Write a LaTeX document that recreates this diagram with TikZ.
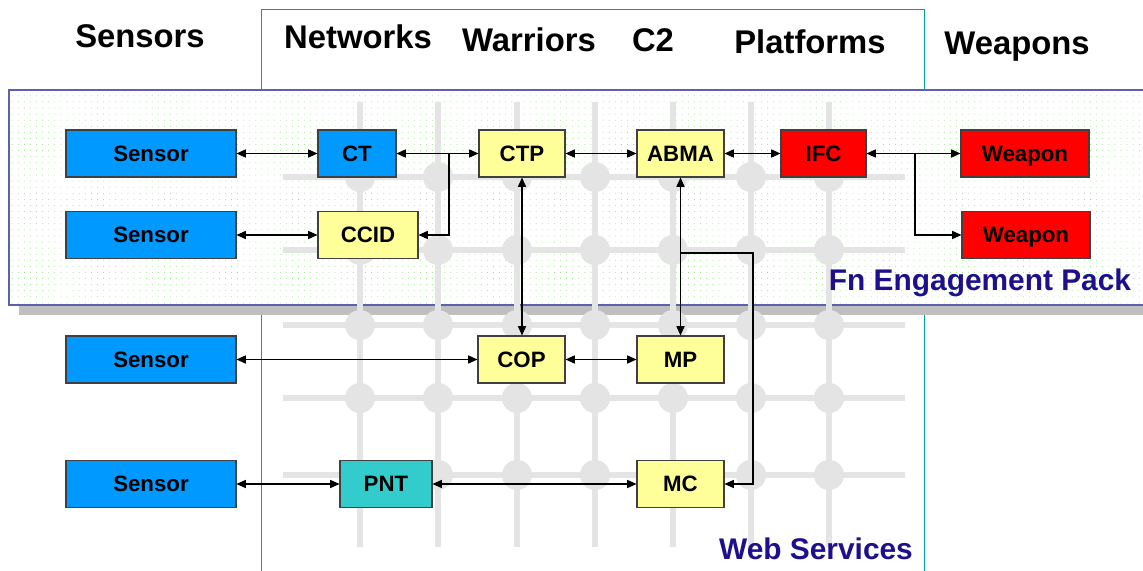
\documentclass[tikz,border=0pt]{standalone}
\usepackage{fontspec}
\setmainfont{Liberation Sans}
\usetikzlibrary{arrows.meta,patterns.meta}

\definecolor{sensorblue}{RGB}{0,153,255}
\definecolor{svcyellow}{RGB}{255,255,153}
\definecolor{pntteal}{RGB}{51,204,204}
\definecolor{packblue}{RGB}{30,16,140}
\definecolor{packedge}{RGB}{95,95,175}
\definecolor{packdots}{RGB}{120,220,100}
\definecolor{gridgray}{RGB}{228,228,228}
\definecolor{frameteal}{RGB}{0,160,160}

\tikzstyle{box}=[draw=black!75,line width=0.9pt,minimum height=1.41cm,inner sep=0pt,text height=13.6pt,text depth=0pt,font=\fontsize{19}{22}\selectfont\bfseries]
\tikzstyle{sensor}=[box,fill=sensorblue,minimum width=5.1cm]
\tikzstyle{svc}=[box,fill=svcyellow]
\tikzstyle{wpn}=[box,fill=red]
\tikzstyle{grid}=[gridgray,line width=4.3pt]
\tikzstyle{link}=[line width=0.9pt,{Triangle[length=8pt,width=7pt]}-{Triangle[length=8pt,width=7pt]}]
\tikzstyle{tip}=[line width=0.9pt,-{Triangle[length=8pt,width=7pt]}]
\tikzstyle{head}=[inner sep=0pt,text height=20pt,text depth=0pt,font=\fontsize{28}{32}\selectfont\bfseries]
\tikzstyle{tag}=[text=packblue,inner sep=0pt,text height=18.3pt,text depth=0pt,font=\fontsize{25.5}{30}\selectfont\bfseries]

\begin{document}
\begin{tikzpicture}[x=0.03cm,y=-0.03cm]

   \clip (0,0) rectangle (1143,571);
   \fill[white] (0,0) rectangle (1143,571);

   % Column titles

   \draw (140,36) node[head] (hsens) {Sensors};
   \draw (358,37) node[head] (hnet) {Networks};
   \draw (529,40) node[head] (hwar) {Warriors};
   \draw (653,40) node[head] (hc2) {C2};
   \draw (810,42) node[head] (hplat) {Platforms};
   \draw (1017,43) node[head] (hweap) {Weapons};

   \draw[frameteal,line width=0.8pt] (261,600) -- (261,9) -- (924,9) -- (924,600);

   % Engagement pack

   \fill[black!25] (19,100) rectangle (1160,315);
   \fill[white] (9,90) rectangle (1160,305);
   \fill[pattern={Dots[distance=5.2pt,radius=0.35pt]},pattern color=packdots] (9,90) rectangle (1160,305);
   \draw[packedge,line width=1.2pt] (9,90) rectangle (1160,305);

   % Web services grid

   \foreach \y in {177,250,325,398,475}
      \draw[grid] (283,\y) -- (905,\y);
   \foreach \x in {360,438,517,595,673,751,829} {
      \draw[grid] (\x,102) -- (\x,547);
      \foreach \y in {177,250,325,398,475}
         \fill[gridgray] (\x,\y) circle (15);
   }

   % Boxes

   \draw (151,153.5) node[sensor] (s1) {Sensor};
   \draw (357,153.5) node[sensor,minimum width=2.34cm] (ct) {CT};
   \draw (522,153.5) node[svc,minimum width=2.58cm] (ctp) {CTP};
   \draw (680.5,153.5) node[svc,minimum width=2.61cm] (abma) {ABMA};
   \draw (823.5,153.5) node[wpn,minimum width=2.55cm] (ifc) {IFC};
   \draw (1025,153.5) node[wpn,minimum width=3.84cm] (w1) {Weapon};

   \draw (151,235) node[sensor] (s2) {Sensor};
   \draw (368,235) node[svc,minimum width=3.0cm] (ccid) {CCID};
   \draw (1026,235) node[wpn,minimum width=3.84cm] (w2) {Weapon};

   \draw (980,280) node[tag] (fn) {Fn Engagement Pack};

   \draw (151,359.5) node[sensor] (s3) {Sensor};
   \draw (521.5,359.5) node[svc,minimum width=2.61cm] (cop) {COP};
   \draw (680.5,359.5) node[svc,minimum width=2.61cm] (mp) {MP};

   \draw (151,484) node[sensor] (s4) {Sensor};
   \draw (386,484) node[box,fill=pntteal,minimum width=2.76cm] (pnt) {PNT};
   \draw (680.5,484) node[svc,minimum width=2.61cm] (mc) {MC};

   \draw (816,549) node[tag] (ws) {Web Services};

   % Links

   \coordinate (ctjoin) at (449,153.5);
   \coordinate (wjoin) at (915,153.5);
   \coordinate (mcjoin) at (753,253);

   \draw[link] (s1) -- (ct);
   \draw[link] (ct) -- (ctp);
   \draw[tip] (ctjoin) |- (ccid.east);
   \draw[link] (s2) -- (ccid);
   \draw[link] (ctp) -- (abma);
   \draw[link] (abma) -- (ifc);
   \draw[link] (ifc) -- (w1);
   \draw[tip] (wjoin) |- (w2.west);
   \draw[link] (ctp.south) -- (ctp.south |- cop.north);
   \draw[link] (abma.south) -- (abma.south |- mp.north);
   \draw[tip] (abma.south |- mcjoin) -- (mcjoin) |- (mc.east);
   \draw[link] (s3) -- (cop);
   \draw[link] (cop) -- (mp);
   \draw[link] (s4) -- (pnt);
   \draw[link] (pnt) -- (mc);

\end{tikzpicture}
\end{document}
